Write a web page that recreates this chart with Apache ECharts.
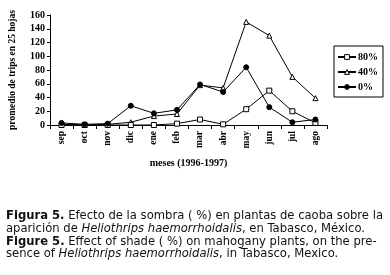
<!DOCTYPE html>
<html>
<head>
<meta charset="utf-8">
<script src="https://cdn.jsdelivr.net/npm/echarts@6/dist/echarts.min.js"></script>
<style>
  html, body { margin: 0; padding: 0; background: #fff; }
  #chart { width: 390px; height: 275px; }
</style>
</head>
<body>
<div id="chart"></div>
<script>
  const months = ['sep', 'oct', 'nov', 'dic', 'ene', 'feb', 'mar', 'abr', 'may', 'jun', 'jul', 'ago'];
  const shade80 = [0, 0, 0, 0, 0, 2, 8, 1, 23, 50, 20, 3];
  const shade40 = [1, 0, 1, 4, 13, 16, 58, 54, 150, 130, 70, 39];
  const shade0 = [3, 1, 2, 28, 17, 22, 59, 48, 84, 26, 4, 8];
  const yTicks = [0, 20, 40, 60, 80, 100, 120, 140, 160];

  const serif = '"Liberation Serif", "DejaVu Serif", serif';
  const sans = '"DejaVu Sans", "Liberation Sans", sans-serif';

  const myChart = echarts.init(document.getElementById('chart'));

  const lineStyle = { color: '#000', width: 1 };
  const hollow = { color: '#fff', borderColor: '#000', borderWidth: 1 };
  const filled = { color: '#000', borderColor: '#000', borderWidth: 1 };

  const option = {
    backgroundColor: '#fff',
    animation: false,
    title: {
      left: 1,
      top: 205,
      text: [
        '{b|Figura 5.} Efecto de la sombra ( %) en plantas de caoba sobre la',
        'aparición de {i|Heliothrips haemorrhoidalis}, en Tabasco, México.',
        '{b|Figure 5.} Effect of shade ( %) on mahogany plants, on the pre-',
        'sence of {i|Heliothrips haemorrhoidalis}, in Tabasco, Mexico.'
      ].join('\n'),
      textStyle: {
        fontFamily: sans,
        fontSize: 11.6,
        fontWeight: 'normal',
        color: '#111',
        lineHeight: 12.7,
        rich: {
          b: { fontFamily: sans, fontSize: 11.6, fontWeight: 'bold', color: '#111', lineHeight: 12.7 },
          i: { fontFamily: sans, fontSize: 11.6, fontStyle: 'italic', color: '#111', lineHeight: 12.7 }
        }
      }
    },
    legend: {
      orient: 'vertical',
      left: 334,
      top: 46,
      padding: [6, 5, 5, 3],
      itemGap: 5,
      itemWidth: 18,
      itemHeight: 6,
      borderColor: '#000',
      borderWidth: 1,
      borderRadius: 0,
      data: [
        { name: '80%', itemStyle: hollow },
        { name: '40%', itemStyle: hollow },
        { name: '0%', itemStyle: filled }
      ],
      textStyle: { fontFamily: serif, fontWeight: 'bold', fontSize: 10, color: '#000', padding: [0, 0, 0, -3] }
    },
    grid: {
      left: 42,
      right: 63,
      top: 15,
      bottom: 150
    },
    xAxis: {
      type: 'category',
      data: months,
      boundaryGap: true,
      name: 'meses (1996-1997)',
      nameLocation: 'middle',
      nameGap: 33,
      nameTextStyle: { fontFamily: serif, fontWeight: 'bold', fontSize: 10, color: '#000' },
      axisLine: { lineStyle: { color: '#000', width: 1 } },
      axisTick: { show: true, length: 4, lineStyle: { color: '#000' } },
      axisLabel: {
        rotate: 90,
        interval: 0,
        margin: 6,
        fontFamily: serif,
        fontWeight: 'bold',
        fontSize: 9.5,
        color: '#000'
      },
      splitLine: { show: false }
    },
    yAxis: {
      type: 'value',
      min: yTicks[0],
      max: yTicks[yTicks.length - 1],
      interval: 20,
      name: 'promedio de trips en 25 hojas',
      nameLocation: 'middle',
      nameGap: 32,
      nameRotate: 90,
      nameTextStyle: { fontFamily: serif, fontWeight: 'bold', fontSize: 9.5, color: '#000' },
      axisLine: { show: true, lineStyle: { color: '#000', width: 1 } },
      axisTick: { show: true, length: 3, lineStyle: { color: '#000' } },
      axisLabel: {
        fontFamily: serif,
        fontWeight: 'bold',
        fontSize: 10,
        color: '#000',
        margin: 5
      },
      splitLine: { show: false }
    },
    series: [
      {
        name: '80%',
        type: 'line',
        data: shade80,
        symbol: 'rect',
        symbolSize: 5,
        lineStyle: lineStyle,
        itemStyle: hollow,
        z: 3
      },
      {
        name: '40%',
        type: 'line',
        data: shade40,
        symbol: 'triangle',
        symbolSize: 5,
        lineStyle: lineStyle,
        itemStyle: hollow,
        z: 2
      },
      {
        name: '0%',
        type: 'line',
        data: shade0,
        symbol: 'circle',
        symbolSize: 5,
        lineStyle: lineStyle,
        itemStyle: filled,
        z: 4
      }
    ]
  };

  myChart.setOption(option);
</script>
</body>
</html>
